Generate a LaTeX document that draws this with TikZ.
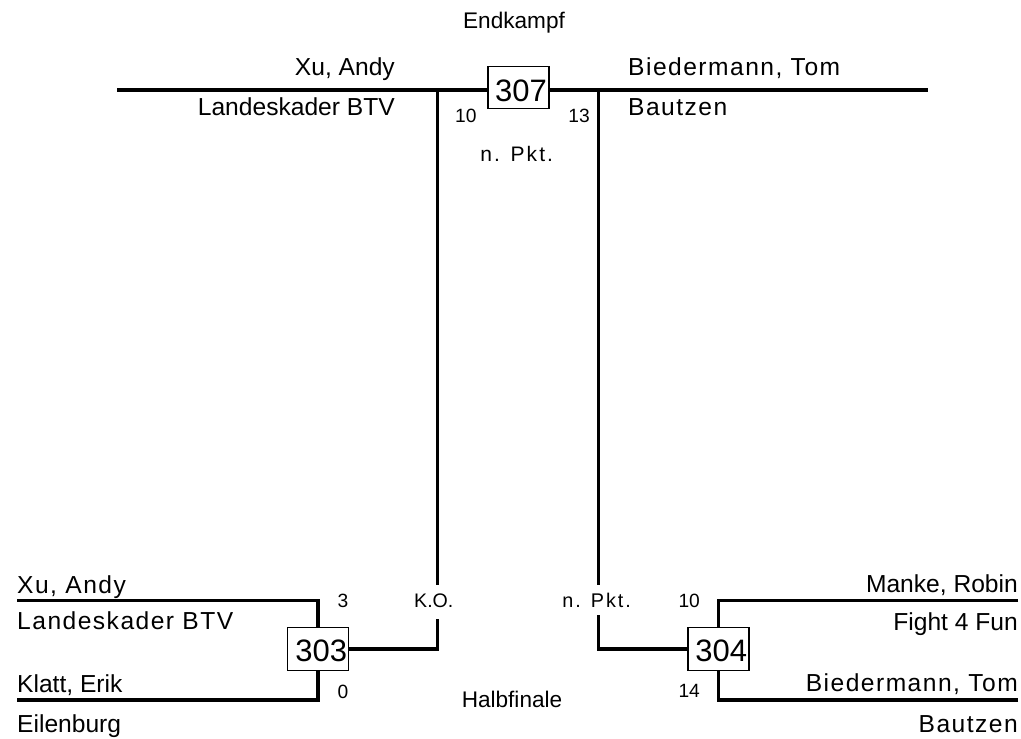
\documentclass[tikz,border=0pt]{standalone}
\usepackage{fontspec}
\setmainfont{Liberation Sans}
\newfontfamily\spacedfont[LetterSpace=6]{Liberation Sans}
\newfontfamily\widefont[LetterSpace=10]{Liberation Sans}
\tikzset{
  bar/.style={line width=3.3pt, line join=miter},
  matchbox/.style={draw, line width=1.2pt, fill=white, minimum width=61pt, minimum height=42.5pt, inner sep=0pt},
  num/.style={inner sep=0pt, font=\fontsize{31}{34}\selectfont},
  pname/.style={inner sep=0pt, font=\fontsize{24.6}{28}\selectfont},
  wname/.style={inner sep=0pt, font=\spacedfont\fontsize{24.6}{28}\selectfont},
  score/.style={inner sep=0pt, font=\fontsize{19.2}{22}\selectfont},
  note/.style={inner sep=0pt, font=\fontsize{19.6}{22}\selectfont},
  wnote/.style={inner sep=0pt, font=\widefont\fontsize{19.8}{22}\selectfont},
  roundlabel/.style={inner sep=0pt, font=\fontsize{22.6}{26}\selectfont},
}
\begin{document}
\begin{tikzpicture}[x=1pt, y=-1pt]
\useasboundingbox (0,0) rectangle (1021,739);

% ---- coordinates
\coordinate (tl) at (117,90);
\coordinate (tr) at (928,90);
\coordinate (jl) at (437.7,90);
\coordinate (kotop) at (437.7,584.7);
\coordinate (kobot) at (437.7,619);
\coordinate (jr) at (598.3,90);
\coordinate (pktop) at (598.3,585);
\coordinate (pkbot) at (598.3,615);
\coordinate (a1) at (17,600.7);
\coordinate (a2) at (17,700);
\coordinate (b1) at (1018,600.7);
\coordinate (b2) at (1018,700);

% ---- final
\draw[bar] (tl) -- (tr);
\draw[bar] (jl) -- (kotop);
\draw[bar] (jr) -- (pktop);
\node[matchbox] (m307) at (518.5,87.5) {};
\node[num, anchor=base east] (n307) at (547,101.7) {307};

\node[roundlabel, anchor=base] (endk) at (514,28) {Endkampf};
\node[pname, anchor=base east] (f1) at (395,75.5) {Xu, Andy};
\node[pname, anchor=base east] (f1c) at (395,115) {Landeskader BTV};
\node[wname, anchor=base west] (f2) at (628,75.5) {Biedermann, Tom};
\node[wname, anchor=base west] (f2c) at (628,115) {Bautzen};
\node[score, anchor=base west] (s307a) at (455,122.7) {10};
\node[score, anchor=base east] (s307b) at (590,122.7) {13};
\node[inner sep=0pt, font=\widefont\fontsize{21}{24}\selectfont, anchor=base] (r307) at (516.7,161) {n. Pkt.};

% ---- semifinal 303
\node[matchbox] (m303) at (318,649) {};
\draw[bar] (a1) -| (m303.north);
\draw[bar] (a2) -| (m303.south);
\draw[bar] (kobot) |- (m303.east);
\node[num, anchor=base east] (n303) at (347.3,661.7) {303};
\node[wname, anchor=base west] (p1) at (17,593) {Xu, Andy};
\node[wname, anchor=base west] (p1c) at (17,629) {Landeskader BTV};
\node[pname, anchor=base west] (p2) at (17,692) {Klatt, Erik};
\node[pname, anchor=base west] (p2c) at (17,732) {Eilenburg};
\node[score, anchor=base west] (s303a) at (337.3,607.3) {3};
\node[score, anchor=base west] (s303b) at (337.3,698) {0};
\node[note, anchor=base] (r303) at (433.8,607.3) {K.O.};

% ---- semifinal 304
\node[matchbox] (m304) at (718.5,649) {};
\draw[bar] (b1) -| (m304.north);
\draw[bar] (b2) -| (m304.south);
\draw[bar] (pkbot) |- (m304.west);
\node[num, anchor=base east] (n304) at (747.3,661.7) {304};
\node[pname, anchor=base east] (q1) at (1018,592) {Manke, Robin};
\node[pname, anchor=base east] (q1c) at (1018,630) {Fight 4 Fun};
\node[wname, anchor=base east] (q2) at (1018,691.5) {Biedermann, Tom};
\node[wname, anchor=base east] (q2c) at (1018,732) {Bautzen};
\node[score, anchor=base west] (s304a) at (678.3,607.3) {10};
\node[score, anchor=base west] (s304b) at (678.3,697.5) {14};
\node[wnote, anchor=base] (r304) at (596.7,607.3) {n. Pkt.};

\node[roundlabel, anchor=base] (halb) at (512,707) {Halbfinale};
\end{tikzpicture}
\end{document}
